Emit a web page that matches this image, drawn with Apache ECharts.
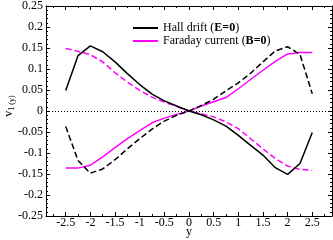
<!DOCTYPE html>
<html>
<head>
<meta charset="utf-8">
<script src="https://cdn.jsdelivr.net/npm/echarts@6/dist/echarts.min.js"></script>
<style>
html,body{margin:0;padding:0;background:#fff;}
#c{width:333px;height:240px;}
</style>
</head>
<body>
<div id="c"></div>
<script>
var xs = [-2.5,-2.25,-2,-1.75,-1.5,-1.25,-1,-0.75,-0.5,-0.25,0,0.25,0.5,0.75,1,1.25,1.5,1.75,2,2.25,2.5];
var hallSolid = [0.049,0.132,0.155,0.141,0.117,0.089,0.063,0.040,0.024,0.012,0,-0.009,-0.021,-0.036,-0.058,-0.082,-0.105,-0.135,-0.151,-0.125,-0.051];
var hallDashed = [-0.037,-0.118,-0.148,-0.138,-0.116,-0.090,-0.066,-0.043,-0.024,-0.010,0,0.013,0.028,0.048,0.067,0.090,0.117,0.143,0.153,0.135,0.041];
var faradaySolid = [-0.136,-0.136,-0.129,-0.109,-0.087,-0.066,-0.047,-0.028,-0.017,-0.008,0,0.012,0.022,0.032,0.053,0.075,0.097,0.118,0.136,0.139,0.139];
var faradayDashed = [0.149,0.142,0.134,0.117,0.091,0.069,0.049,0.033,0.021,0.011,0,-0.007,-0.014,-0.026,-0.042,-0.066,-0.090,-0.113,-0.131,-0.139,-0.141];
var xMajorTicks = [-2.5,-2,-1.5,-1,-0.5,0,0.5,1,1.5,2,2.5];
var xMinorTicks = [-2.75,-2.25,-1.75,-1.25,-0.75,-0.25,0.25,0.75,1.25,1.75,2.25,2.75];
var xRange = [-2.9, 2.9];
var yRange = [-0.25, 0.25];
var yStep = 0.05;
var legendNames = ['Hall drift (E=0)', 'Faraday current (B=0)'];
var xTitle = 'y';
var yTitleMain = 'v';
var yTitleSub = '1 (y)';

function pairs(ys){ return xs.map(function(x,i){ return [x, ys[i]]; }); }

var FONT = 'Liberation Serif';
var chart = echarts.init(document.getElementById('c'), null, {renderer:'canvas'});

function xAxisDef(pos, ticks, len, labels, line){
  return {
    type:'value', position:pos, min:xRange[0], max:xRange[1],
    axisLine:{show:line, onZero:false, lineStyle:{color:'#000', width:1}},
    axisTick:{show:true, inside:true, length:len, customValues:ticks, lineStyle:{color:'#000', width:1}},
    axisLabel:{show:labels, customValues:ticks, margin:1, color:'#000', fontFamily:FONT, fontSize:12},
    splitLine:{show:false},
    name: labels ? xTitle : '',
    nameLocation:'middle', nameGap:10, nameMoveOverlap:false,
    nameTextStyle:{color:'#000', fontFamily:FONT, fontSize:12}
  };
}
function yAxisDef(pos, labels){
  return {
    type:'value', position:pos, min:yRange[0], max:yRange[1], interval:yStep,
    axisLine:{show:true, onZero:false, lineStyle:{color:'#000', width:1}},
    axisTick:{show:true, inside:true, length:4, lineStyle:{color:'#000', width:1}},
    minorTick:{show:true, splitNumber:5, length:2, lineStyle:{color:'#000', width:1}},
    axisLabel:{show:labels, margin:3, color:'#000', fontFamily:FONT, fontSize:12},
    splitLine:{show:false},
    name: labels ? ('{v|' + yTitleMain + '}{s|' + yTitleSub + '}') : '',
    nameLocation:'middle', nameRotate:90, nameGap:30, nameMoveOverlap:false,
    nameTextStyle:{color:'#000', fontFamily:FONT, padding:[0,0,0,10],
      rich:{
        v:{fontFamily:FONT, fontSize:12, lineHeight:14, color:'#000'},
        s:{fontFamily:FONT, fontSize:8, lineHeight:8, verticalAlign:'bottom', color:'#000'}
      }}
  };
}

var option = {
  animation:false,
  backgroundColor:'#fff',
  grid:{left:46, right:1, top:6, bottom:24, containLabel:false, outerBoundsMode:'none'},
  xAxis:[
    xAxisDef('bottom', xMajorTicks, 4, true, true),
    xAxisDef('bottom', xMinorTicks, 2, false, false),
    xAxisDef('top', xMajorTicks, 4, false, true),
    xAxisDef('top', xMinorTicks, 2, false, false)
  ],
  yAxis:[ yAxisDef('left', true), yAxisDef('right', false) ],
  legend:{
    data:legendNames, orient:'vertical', left:128, top:17, itemGap:1,
    icon:'rect', itemWidth:25, itemHeight:2, selectedMode:false,
    formatter:function(name){
      var m = name.match(/^(.*\()(.*)(\))$/);
      return '{n|' + m[1] + '}{b|' + m[2] + '}{n|' + m[3] + '}';
    },
    textStyle:{color:'#000', fontFamily:FONT, fontSize:12,
      rich:{ n:{fontFamily:FONT, fontSize:12, color:'#000'}, b:{fontFamily:FONT, fontSize:12, fontWeight:'bold', color:'#000'} }}
  },
  series:[
    {name:'Faraday dashed', type:'line', data:pairs(faradayDashed), symbol:'none',
      lineStyle:{color:'#ff00ff', width:1.5, type:[6,3]}, itemStyle:{color:'#ff00ff'},
      markLine:{silent:true, symbol:['none','none'], label:{show:false},
        lineStyle:{color:'#000', width:1, type:[1,2]}, data:[{yAxis:0}]}},
    {name:legendNames[1], type:'line', data:pairs(faradaySolid), symbol:'none',
      lineStyle:{color:'#ff00ff', width:1.5}, itemStyle:{color:'#ff00ff'}},
    {name:'Hall dashed', type:'line', data:pairs(hallDashed), symbol:'none',
      lineStyle:{color:'#000', width:1.5, type:[6,3]}, itemStyle:{color:'#000'}},
    {name:legendNames[0], type:'line', data:pairs(hallSolid), symbol:'none',
      lineStyle:{color:'#000', width:1.5}, itemStyle:{color:'#000'}}
  ]
};
chart.setOption(option);
</script>
</body>
</html>
